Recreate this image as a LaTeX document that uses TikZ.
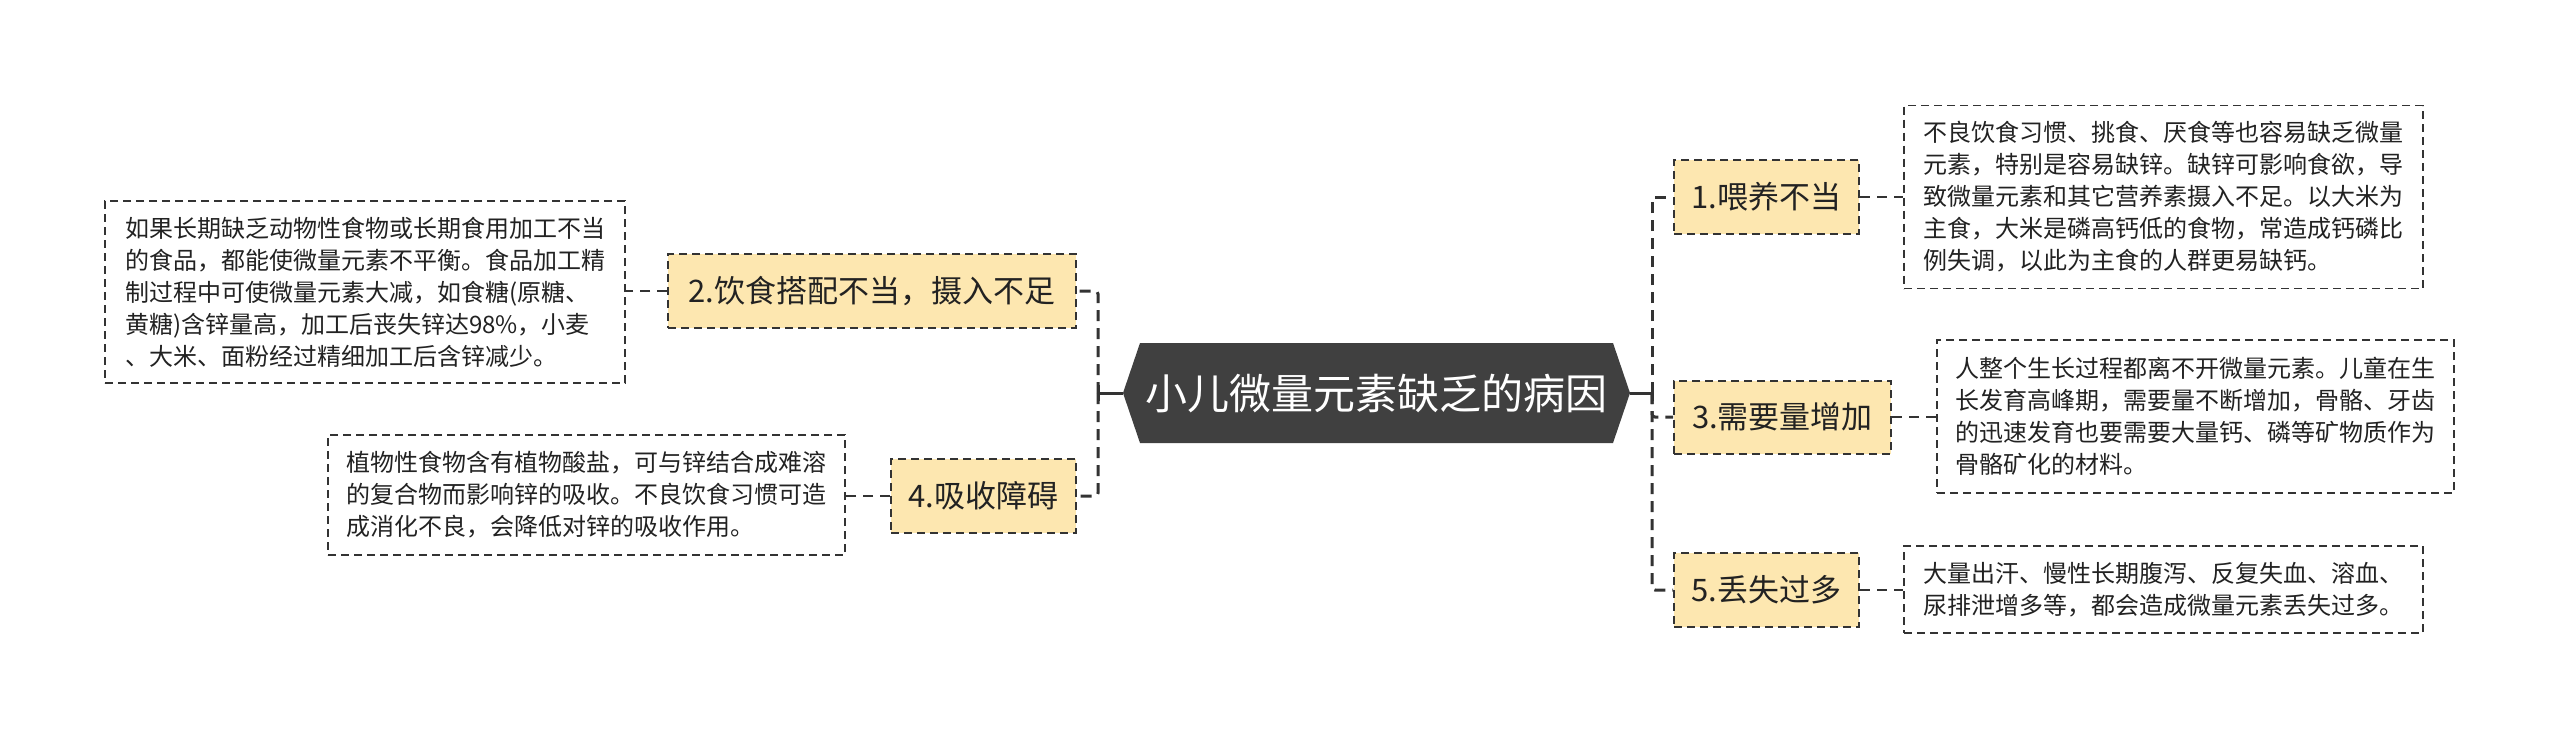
\documentclass[tikz,border=0pt]{standalone}
\usepackage{fontspec}
\setmainfont{Noto Sans CJK SC}
\definecolor{labelfill}{RGB}{253,231,176}
\definecolor{linegray}{RGB}{51,51,51}
\definecolor{hexgray}{RGB}{64,64,64}
\definecolor{textdark}{RGB}{34,34,34}
\begin{document}
\begin{tikzpicture}[x=1pt,y=-1pt,
  labelbox/.style={draw=linegray,line width=2pt,dash pattern=on 8pt off 5pt,fill=labelfill,
    font=\fontsize{31}{36}\selectfont,text=textdark,inner sep=0pt,minimum height=74pt},
  detailbox/.style={draw=linegray,line width=1.8pt,dash pattern=on 8pt off 5pt,fill=white,
    font=\fontsize{24}{32}\selectfont,text=textdark,align=left,inner sep=0pt},
  conn/.style={draw=linegray,line width=3pt,dash pattern=on 11pt off 7pt,rounded corners=3pt},
  sub/.style={draw=linegray,line width=2.5pt,dash pattern=on 10pt off 7pt},
  stem/.style={draw=linegray,line width=3pt}
]
\useasboundingbox (0,0) rectangle (2560,739);
\fill[white] (0,0) rectangle (2560,739);

% central hexagon
\fill[hexgray] (1140,343) -- (1613,343) -- (1630,393) -- (1613,443) -- (1140,443) -- (1123,393) -- cycle;
\node[text=white,font=\fontsize{42}{48}\selectfont,minimum width=507pt,minimum height=100pt,inner sep=0pt] (c) at (1376.5,393) {小儿微量元素缺乏的病因};

% junctions
\coordinate (jl) at (1098,393);
\coordinate (jr) at (1652,393);

% first-level labels
\node[labelbox,minimum width=408pt] (b2) at (872,291) {2.饮食搭配不当，摄入不足};
\node[labelbox,minimum width=185pt] (b4) at (983.5,496) {4.吸收障碍};
\node[labelbox,minimum width=185pt] (b1) at (1766.5,197) {1.喂养不当};
\node[labelbox,minimum width=217pt,minimum height=73pt] (b3) at (1782.5,417) {3.需要量增加};
\node[labelbox,minimum width=185pt] (b5) at (1766.5,590) {5.丢失过多};

% detail boxes
\node[detailbox,minimum width=520pt,minimum height=182pt] (d2) at (365,292) {如果长期缺乏动物性食物或长期食用加工不当\\的食品，都能使微量元素不平衡。食品加工精\\制过程中可使微量元素大减，如食糖(原糖、\\黄糖)含锌量高，加工后丧失锌达98\%，小麦\\、大米、面粉经过精细加工后含锌减少。};
\node[detailbox,minimum width=517pt,minimum height=120pt] (d4) at (586.5,495) {植物性食物含有植物酸盐，可与锌结合成难溶\\的复合物而影响锌的吸收。不良饮食习惯可造\\成消化不良，会降低对锌的吸收作用。};
\node[detailbox,minimum width=519pt,minimum height=183pt] (d1) at (2163.5,197) {不良饮食习惯、挑食、厌食等也容易缺乏微量\\元素，特别是容易缺锌。缺锌可影响食欲，导\\致微量元素和其它营养素摄入不足。以大米为\\主食，大米是磷高钙低的食物，常造成钙磷比\\例失调，以此为主食的人群更易缺钙。};
\node[detailbox,minimum width=517pt,minimum height=153pt] (d3) at (2195.5,416.5) {人整个生长过程都离不开微量元素。儿童在生\\长发育高峰期，需要量不断增加，骨骼、牙齿\\的迅速发育也要需要大量钙、磷等矿物质作为\\骨骼矿化的材料。};
\node[detailbox,minimum width=519pt,minimum height=87pt] (d5) at (2163.5,589.5) {大量出汗、慢性长期腹泻、反复失血、溶血、\\尿排泄增多等，都会造成微量元素丢失过多。};

% stems from centre
\draw[stem] (c.west) -- (jl);
\draw[stem] ([yshift=-8pt]jl) -- ([yshift=8pt]jl);
\draw[stem] (c.east) -- (jr);
\draw[stem] ([yshift=-8pt]jr) -- ([yshift=8pt]jr);

% branches
\draw[conn] (jl) |- (b2.east);
\draw[conn] (jl) |- (b4.east);
\draw[conn] (jr) |- (b1.west);
\draw[conn] (jr) |- (b3.west);
\draw[conn] (jr) |- (b5.west);

% label to detail
\draw[sub] (b2.west) -- (d2.east |- b2.west);
\draw[sub] (b4.west) -- (d4.east |- b4.west);
\draw[sub] (b1.east) -- (d1.west |- b1.east);
\draw[sub] (b3.east) -- (d3.west |- b3.east);
\draw[sub] (b5.east) -- (d5.west |- b5.east);
\end{tikzpicture}
\end{document}
